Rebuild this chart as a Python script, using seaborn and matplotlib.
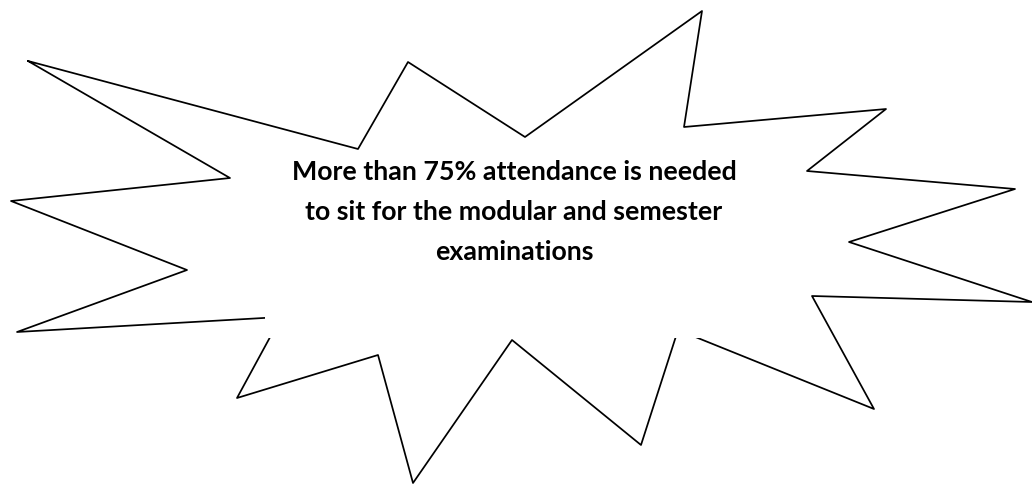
import matplotlib
matplotlib.use("Agg")
import matplotlib.pyplot as plt
import seaborn as sns
import pandas as pd
from matplotlib.patches import Rectangle

# Starburst outline vertices (picture coordinates, y downwards), clockwise
star_x = [28, 358, 408, 525, 702, 684, 886, 807, 1015, 849, 1032, 812, 874, 678,
          641, 512, 413, 378, 237, 281, 17, 187, 11, 230]
star_y = [61, 149, 62, 137, 11, 127, 109, 171, 189, 242, 302, 296, 409, 330,
          445, 340, 483, 355, 398, 317, 332, 270, 201, 178]

text_lines = ["More than 75% attendance is needed",
              "to sit for the modular and semester",
              "examinations"]

sns.set_theme(style="white")
plt.rcParams['font.family'] = ['Lato', 'DejaVu Sans']

fig = plt.figure(figsize=(10.32, 4.84), dpi=100)
ax = fig.add_axes([0, 0, 1, 1])

df = pd.DataFrame({"x": star_x + star_x[:1], "y": star_y + star_y[:1]})
sns.lineplot(data=df, x="x", y="y", sort=False, estimator=None, color="black",
             linewidth=1.25, ax=ax, zorder=1)

# white text box that hides part of the outline
ax.add_patch(Rectangle((265, 152), 490, 185.5, facecolor="white", edgecolor="none", zorder=2))

baselines = [180, 220, 260]
for line, yb in zip(text_lines, baselines):
    ax.text(514, yb, line, ha="center", va="baseline", fontsize=19.3,
            fontweight="bold", color="black", zorder=3)

ax.set_xlim(0, 1032)
ax.set_ylim(484, 0)
ax.axis("off")
fig.savefig("out.png", dpi=100, facecolor="white")
